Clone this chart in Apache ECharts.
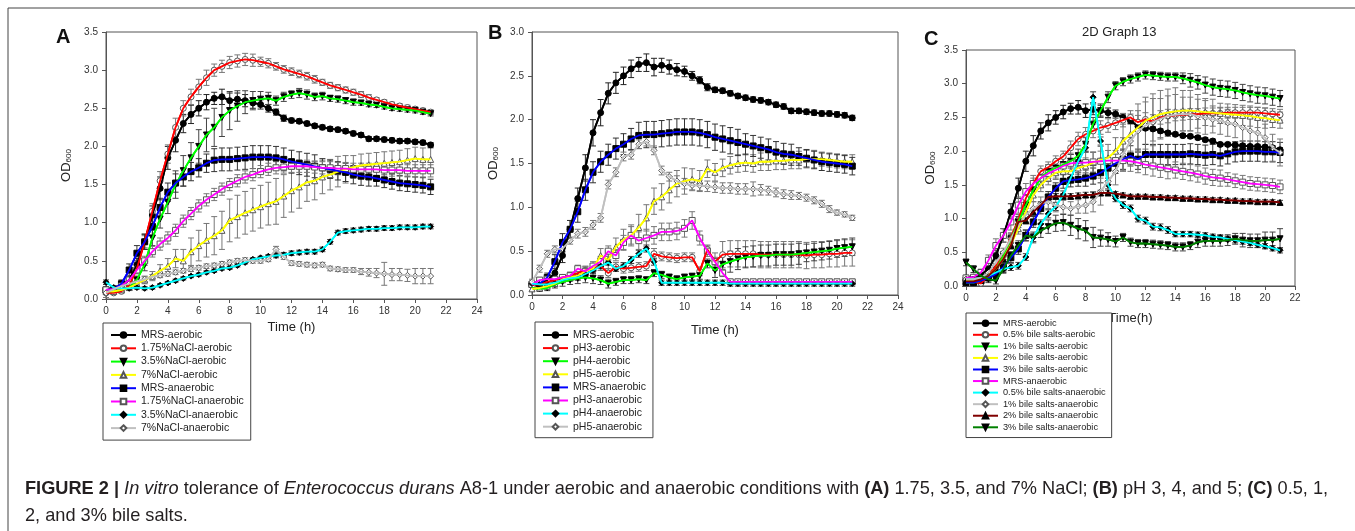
<!DOCTYPE html>
<html>
<head>
<meta charset="utf-8">
<script src="https://cdn.jsdelivr.net/npm/echarts@6/dist/echarts.min.js"></script>
<style>
  html, body { margin: 0; padding: 0; background: #fff; }
  #chart { width: 1355px; height: 531px; }
</style>
</head>
<body>
<div id="chart"></div>
<script>
// sampling times (h), same for every curve
const hours = [0,0.5,1,1.5,2,2.5,3,3.5,4,4.5,5,5.5,6,6.5,7,7.5,8,8.5,9,9.5,10,10.5,11,11.5,12,12.5,13,13.5,14,14.5,15,15.5,16,16.5,17,17.5,18,18.5,19,19.5,20,20.5,21];

// MRS controls (shared by the three panels)
const mrsAerobic = [0.12,0.13,0.17,0.25,0.45,0.75,1.1,1.45,1.85,2.08, 2.3,2.42,2.5,2.58,2.63,2.65,2.6,2.62,2.6,2.57, 2.55,2.5,2.45,2.37,2.34,2.33,2.3,2.27,2.25,2.23, 2.22,2.2,2.17,2.15,2.1,2.1,2.09,2.08,2.07,2.07, 2.06,2.05,2.02];
const mrsAerobicErr = [0.02,0.02,0.03,0.05,0.08,0.1,0.12,0.15,0.15,0.15, 0.12,0.12,0.1,0.1,0.08,0.1,0.1,0.08,0.08,0.07, 0.06,0.05,0.04,0.04,0.03,0.03,0.03,0.03,0.03,0.03, 0.03,0.03,0.03,0.03,0.03,0.03,0.03,0.03,0.03,0.03, 0.03,0.03,0.03];
const mrsAnaerobic = [0.12,0.13,0.2,0.38,0.6,0.75,0.95,1.2,1.4,1.52, 1.6,1.67,1.72,1.78,1.82,1.83,1.83,1.84,1.85,1.86, 1.86,1.86,1.85,1.83,1.8,1.78,1.76,1.74,1.72,1.7, 1.68,1.66,1.63,1.61,1.6,1.58,1.56,1.54,1.52,1.51, 1.5,1.49,1.47];
const mrsAnaerobicErr = [0.03,0.03,0.05,0.08,0.1,0.1,0.12,0.12,0.12,0.12, 0.12,0.12,0.12,0.12,0.15,0.15,0.15,0.15,0.15,0.15, 0.15,0.15,0.15,0.15,0.15,0.15,0.15,0.15,0.12,0.12, 0.12,0.12,0.12,0.12,0.12,0.1,0.1,0.1,0.1,0.1, 0.1,0.1,0.1];

// panel A - NaCl
const nacl175Aer = [0.08,0.08,0.1,0.18,0.4,0.75,1.15,1.55,1.9,2.25, 2.5,2.65,2.78,2.9,3.0,3.05,3.1,3.12,3.14,3.13, 3.11,3.09,3.05,3.01,2.98,2.95,2.92,2.88,2.84,2.8, 2.77,2.74,2.71,2.68,2.64,2.61,2.58,2.55,2.53,2.51, 2.49,2.47,2.45];
const nacl175AerErr = [0.02,0.02,0.02,0.03,0.05,0.08,0.1,0.12,0.12,0.12, 0.1,0.1,0.1,0.1,0.08,0.08,0.08,0.08,0.08,0.08, 0.06,0.06,0.05,0.05,0.05,0.05,0.05,0.05,0.04,0.04, 0.04,0.04,0.04,0.04,0.04,0.03,0.03,0.03,0.03,0.03, 0.03,0.03,0.03];
const nacl35Aer = [0.1,0.1,0.12,0.15,0.25,0.45,0.8,1.05,1.27,1.5, 1.68,1.85,2.0,2.15,2.25,2.38,2.47,2.53,2.58,2.6, 2.62,2.63,2.6,2.65,2.68,2.7,2.68,2.65,2.66,2.63, 2.62,2.6,2.58,2.57,2.55,2.54,2.52,2.5,2.49,2.48, 2.47,2.45,2.43];
const nacl35AerErr = [0.02,0.02,0.02,0.03,0.05,0.08,0.1,0.12,0.15,0.18, 0.2,0.2,0.22,0.22,0.25,0.25,0.25,0.2,0.15,0.12, 0.1,0.08,0.06,0.06,0.05,0.06,0.06,0.05,0.05,0.04, 0.04,0.04,0.04,0.03,0.03,0.03,0.03,0.03,0.03,0.03, 0.03,0.03,0.03];
const nacl7Aer = [0.1,0.1,0.12,0.15,0.2,0.25,0.3,0.37,0.43,0.53, 0.5,0.62,0.7,0.77,0.83,0.9,1.03,1.08,1.13,1.17, 1.21,1.25,1.28,1.35,1.42,1.47,1.53,1.55,1.6,1.63, 1.67,1.7,1.73,1.75,1.76,1.77,1.78,1.79,1.8,1.82, 1.84,1.83,1.83];
const nacl7AerErr = [0.02,0.02,0.02,0.03,0.04,0.05,0.06,0.08,0.1,0.12, 0.15,0.18,0.2,0.22,0.25,0.25,0.28,0.28,0.28,0.28, 0.28,0.28,0.3,0.28,0.28,0.28,0.25,0.25,0.22,0.2, 0.2,0.18,0.15,0.15,0.15,0.15,0.15,0.15,0.15,0.15, 0.15,0.15,0.15];
const nacl175An = [0.12,0.13,0.17,0.25,0.38,0.5,0.62,0.72,0.8,0.9, 1.02,1.12,1.22,1.3,1.37,1.44,1.5,1.55,1.6,1.63, 1.67,1.7,1.72,1.73,1.74,1.74,1.74,1.73,1.72,1.72, 1.71,1.71,1.7,1.7,1.7,1.7,1.69,1.69,1.69,1.68, 1.68,1.68,1.68];
const nacl175AnErr = [0.02,0.02,0.03,0.04,0.05,0.06,0.07,0.08,0.08,0.08, 0.08,0.08,0.08,0.08,0.08,0.08,0.08,0.08,0.08,0.08, 0.08,0.08,0.08,0.08,0.08,0.08,0.08,0.08,0.08,0.08, 0.08,0.08,0.08,0.08,0.08,0.08,0.08,0.08,0.08,0.08, 0.08,0.08,0.08];
const nacl35An = [0.22,0.15,0.14,0.14,0.15,0.14,0.15,0.18,0.21,0.24, 0.27,0.3,0.32,0.35,0.37,0.4,0.41,0.44,0.48,0.52, 0.54,0.56,0.57,0.58,0.6,0.61,0.62,0.62,0.65,0.75, 0.87,0.89,0.9,0.91,0.92,0.92,0.93,0.93,0.94,0.94, 0.94,0.95,0.95];
const nacl35AnErr = [0.03,0.02,0.02,0.02,0.02,0.02,0.02,0.02,0.02,0.02, 0.02,0.02,0.02,0.02,0.02,0.02,0.02,0.02,0.02,0.02, 0.02,0.02,0.03,0.03,0.03,0.03,0.03,0.03,0.03,0.03, 0.03,0.03,0.03,0.03,0.03,0.03,0.03,0.03,0.03,0.03, 0.03,0.03,0.03];
const nacl7An = [0.08,0.13,0.17,0.2,0.23,0.26,0.29,0.31,0.33,0.35, 0.37,0.39,0.41,0.43,0.44,0.46,0.48,0.5,0.51,0.5, 0.5,0.52,0.65,0.55,0.47,0.46,0.45,0.44,0.45,0.4, 0.39,0.38,0.38,0.36,0.35,0.34,0.33,0.32,0.32,0.31, 0.3,0.3,0.3];
const nacl7AnErr = [0.06,0.04,0.03,0.03,0.03,0.03,0.03,0.03,0.03,0.03, 0.03,0.03,0.03,0.03,0.03,0.03,0.03,0.03,0.03,0.03, 0.03,0.03,0.04,0.03,0.03,0.03,0.03,0.03,0.03,0.03, 0.03,0.03,0.03,0.04,0.05,0.06,0.15,0.08,0.08,0.08, 0.1,0.1,0.1];

// panel B - pH
const ph3Aer = [0.12,0.12,0.15,0.17,0.2,0.22,0.25,0.28,0.3,0.33, 0.25,0.32,0.3,0.31,0.32,0.33,0.47,0.44,0.43,0.42, 0.43,0.43,0.27,0.52,0.38,0.46,0.47,0.47,0.47,0.47, 0.46,0.46,0.46,0.46,0.46,0.46,0.45,0.46,0.46,0.47, 0.47,0.48,0.48];
const ph3AerErr = [0.03,0.03,0.03,0.03,0.03,0.04,0.05,0.05,0.05,0.05, 0.05,0.05,0.05,0.05,0.05,0.05,0.06,0.05,0.05,0.05, 0.05,0.05,0.05,0.05,0.1,0.15,0.15,0.15,0.15,0.15, 0.15,0.15,0.15,0.15,0.15,0.15,0.15,0.15,0.15,0.15, 0.15,0.15,0.15];
const ph4Aer = [0.08,0.07,0.08,0.12,0.15,0.17,0.19,0.2,0.19,0.17, 0.13,0.15,0.17,0.17,0.18,0.17,0.25,0.23,0.2,0.18, 0.2,0.21,0.22,0.36,0.28,0.35,0.38,0.41,0.43,0.44, 0.45,0.45,0.46,0.46,0.46,0.47,0.48,0.49,0.5,0.51, 0.53,0.54,0.55];
const ph4AerErr = [0.03,0.03,0.03,0.04,0.05,0.05,0.06,0.06,0.06,0.05, 0.05,0.04,0.04,0.04,0.04,0.04,0.04,0.04,0.04,0.04, 0.04,0.04,0.04,0.05,0.08,0.1,0.12,0.12,0.12,0.12, 0.12,0.12,0.12,0.12,0.12,0.12,0.1,0.1,0.1,0.1, 0.1,0.1,0.1];
const ph5Aer = [0.07,0.08,0.1,0.13,0.18,0.2,0.22,0.27,0.3,0.45, 0.4,0.55,0.63,0.68,0.77,0.88,1.07,1.12,1.2,1.27, 1.3,1.32,1.3,1.44,1.4,1.45,1.48,1.5,1.51,1.5, 1.52,1.52,1.53,1.53,1.54,1.54,1.55,1.55,1.55,1.54, 1.53,1.52,1.52];
const ph5AerErr = [0.03,0.03,0.03,0.03,0.04,0.04,0.05,0.05,0.06,0.08, 0.1,0.1,0.12,0.12,0.15,0.15,0.15,0.15,0.15,0.15, 0.15,0.12,0.12,0.1,0.1,0.1,0.1,0.1,0.1,0.1, 0.1,0.1,0.1,0.1,0.1,0.1,0.1,0.1,0.08,0.08, 0.08,0.08,0.08];
const ph3An = [0.12,0.17,0.18,0.18,0.2,0.22,0.3,0.27,0.33,0.38, 0.5,0.45,0.6,0.68,0.62,0.65,0.68,0.72,0.72,0.73, 0.76,0.85,0.65,0.5,0.38,0.25,0.15,0.15,0.15,0.15, 0.15,0.15,0.15,0.15,0.15,0.15,0.15,0.15,0.15,0.15, 0.15,0.15,0.15];
const ph3AnErr = [0.03,0.03,0.03,0.03,0.03,0.04,0.04,0.05,0.05,0.06, 0.06,0.06,0.08,0.1,0.1,0.1,0.1,0.1,0.1,0.1, 0.1,0.1,0.08,0.06,0.05,0.04,0.03,0.03,0.03,0.03, 0.03,0.03,0.03,0.03,0.03,0.03,0.03,0.03,0.03,0.03, 0.03,0.03,0.03];
const ph4An = [0.13,0.12,0.12,0.14,0.17,0.19,0.2,0.24,0.28,0.33, 0.37,0.3,0.33,0.4,0.47,0.53,0.38,0.14,0.14,0.14, 0.14,0.14,0.14,0.14,0.14,0.14,0.13,0.13,0.13,0.13, 0.13,0.13,0.13,0.13,0.13,0.13,0.13,0.13,0.13,0.13, 0.13,0.13,0.13];
const ph4AnErr = [0.03,0.03,0.03,0.03,0.03,0.03,0.03,0.03,0.03,0.03, 0.03,0.03,0.04,0.04,0.04,0.04,0.04,0.03,0.03,0.03, 0.03,0.03,0.03,0.03,0.03,0.03,0.03,0.03,0.03,0.03, 0.03,0.03,0.03,0.03,0.03,0.03,0.03,0.03,0.03,0.03, 0.03,0.03,0.03];
const ph5An = [0.15,0.3,0.47,0.52,0.53,0.62,0.7,0.72,0.8,0.88, 1.26,1.4,1.58,1.6,1.72,1.75,1.65,1.42,1.35,1.3, 1.27,1.25,1.25,1.24,1.23,1.22,1.22,1.21,1.21,1.21, 1.2,1.19,1.17,1.15,1.14,1.13,1.11,1.08,1.04,0.98, 0.94,0.92,0.88];
const ph5AnErr = [0.03,0.04,0.04,0.04,0.04,0.04,0.05,0.05,0.05,0.05, 0.05,0.05,0.05,0.05,0.05,0.05,0.05,0.05,0.05,0.06, 0.06,0.06,0.06,0.06,0.06,0.06,0.06,0.06,0.06,0.08, 0.06,0.05,0.05,0.05,0.05,0.04,0.04,0.04,0.04,0.04, 0.03,0.03,0.03];

// panel C - bile salts
const bile05Aer = [0.08,0.06,0.04,0.15,0.3,0.45,0.72,0.98,1.3,1.52, 1.7,1.76,1.85,1.92,2.05,2.18,2.25,2.3,2.35,2.38, 2.42,2.46,2.5,2.43,2.47,2.44,2.5,2.52,2.53,2.54, 2.55,2.55,2.56,2.56,2.56,2.57,2.57,2.57,2.57,2.57, 2.56,2.55,2.54];
const bile05AerErr = [0.03,0.03,0.03,0.04,0.05,0.06,0.07,0.08,0.08,0.08, 0.08,0.08,0.08,0.08,0.1,0.1,0.1,0.1,0.1,0.1, 0.1,0.1,0.1,0.1,0.1,0.1,0.1,0.1,0.08,0.08, 0.08,0.08,0.08,0.08,0.08,0.08,0.08,0.08,0.08,0.08, 0.08,0.08,0.08];
const bile1Aer = [0.05,0.05,0.08,0.15,0.25,0.45,0.7,0.95,1.2,1.42, 1.6,1.7,1.75,1.8,1.85,1.93,2.1,2.4,2.6,2.8, 2.97,3.03,3.07,3.1,3.13,3.12,3.11,3.1,3.1,3.08, 3.05,3.02,2.98,2.95,2.93,2.92,2.9,2.87,2.85,2.83, 2.82,2.8,2.78];
const bile1AerErr = [0.03,0.03,0.03,0.04,0.05,0.06,0.07,0.08,0.1,0.1, 0.1,0.1,0.1,0.1,0.1,0.1,0.1,0.1,0.1,0.08, 0.06,0.06,0.06,0.06,0.06,0.06,0.06,0.06,0.06,0.08, 0.1,0.1,0.12,0.12,0.12,0.12,0.12,0.12,0.12,0.12, 0.12,0.12,0.12];
const bile2Aer = [0.08,0.08,0.1,0.15,0.25,0.4,0.62,0.85,1.1,1.35, 1.5,1.6,1.68,1.7,1.7,1.75,1.78,1.83,1.87,1.9, 2.0,2.15,2.25,2.35,2.45,2.5,2.55,2.57,2.59,2.6, 2.6,2.59,2.58,2.57,2.56,2.55,2.54,2.53,2.52,2.5, 2.49,2.47,2.46];
const bile2AerErr = [0.03,0.03,0.03,0.04,0.05,0.06,0.07,0.08,0.1,0.1, 0.1,0.1,0.1,0.1,0.1,0.1,0.12,0.15,0.2,0.2, 0.2,0.25,0.3,0.35,0.35,0.35,0.35,0.35,0.35,0.3, 0.3,0.25,0.2,0.2,0.15,0.15,0.15,0.15,0.15,0.15, 0.15,0.12,0.12];
const bile3Aer = [0.05,0.05,0.08,0.12,0.18,0.28,0.42,0.55,0.75,0.95, 1.15,1.32,1.45,1.55,1.57,1.58,1.6,1.63,1.68,1.75, 1.82,1.88,1.93,1.88,1.95,1.95,1.95,1.95,1.95,1.95, 1.96,1.95,1.94,1.95,1.93,1.96,1.99,2.0,2.0,2.0, 1.99,1.99,1.98];
const bile3AerErr = [0.03,0.03,0.03,0.04,0.05,0.06,0.07,0.08,0.08,0.08, 0.08,0.08,0.08,0.1,0.1,0.1,0.12,0.12,0.15,0.15, 0.15,0.15,0.15,0.15,0.15,0.15,0.15,0.15,0.15,0.15, 0.15,0.15,0.15,0.15,0.15,0.15,0.15,0.15,0.15,0.15, 0.15,0.15,0.15];
const bile05An = [0.1,0.1,0.12,0.15,0.2,0.25,0.28,0.3,0.43,0.72, 0.92,1.07,1.18,1.35,1.6,1.85,2.05,2.8,2.15,1.5, 1.3,1.2,1.15,1.0,0.97,0.88,0.87,0.83,0.77,0.77, 0.77,0.76,0.75,0.73,0.72,0.7,0.68,0.66,0.64,0.61, 0.59,0.56,0.53];
const bile05AnErr = [0.03,0.03,0.03,0.04,0.05,0.05,0.05,0.05,0.05,0.06, 0.06,0.06,0.06,0.06,0.06,0.06,0.06,0.08,0.06,0.06, 0.05,0.05,0.05,0.05,0.05,0.05,0.05,0.05,0.04,0.04, 0.04,0.04,0.04,0.04,0.04,0.04,0.04,0.04,0.04,0.04, 0.04,0.04,0.04];
const bile1An = [0.1,0.1,0.12,0.2,0.35,0.5,0.7,0.9,1.05,1.15, 1.22,1.25,1.2,1.17,1.15,1.18,1.2,1.25,1.4,1.55, 1.7,1.95,2.15,2.3,2.38,2.43,2.48,2.52,2.54,2.55, 2.55,2.52,2.5,2.47,2.45,2.42,2.4,2.35,2.3,2.27, 2.2,2.05,1.98];
const bile1AnErr = [0.03,0.03,0.03,0.04,0.05,0.06,0.07,0.08,0.1,0.1, 0.1,0.1,0.1,0.1,0.1,0.1,0.12,0.15,0.2,0.2, 0.2,0.25,0.3,0.3,0.35,0.35,0.3,0.3,0.3,0.25, 0.25,0.25,0.25,0.2,0.2,0.2,0.2,0.2,0.2,0.2, 0.2,0.2,0.2];
const bile2An = [0.07,0.07,0.1,0.15,0.25,0.4,0.6,0.95,0.97,1.1, 1.2,1.32,1.33,1.33,1.33,1.34,1.35,1.35,1.38,1.38, 1.37,1.35,1.33,1.33,1.33,1.32,1.32,1.31,1.31,1.3, 1.3,1.29,1.29,1.28,1.28,1.27,1.27,1.26,1.26,1.25, 1.25,1.25,1.24];
const bile2AnErr = [0.02,0.02,0.03,0.03,0.04,0.05,0.05,0.05,0.05,0.05, 0.05,0.04,0.04,0.04,0.04,0.04,0.04,0.04,0.04,0.04, 0.03,0.03,0.03,0.03,0.03,0.03,0.03,0.03,0.03,0.03, 0.03,0.03,0.03,0.03,0.03,0.03,0.03,0.03,0.03,0.03, 0.03,0.03,0.03];
const bile3An = [0.35,0.25,0.15,0.1,0.08,0.25,0.45,0.6,0.75,0.72, 0.82,0.88,0.93,0.94,0.9,0.85,0.82,0.72,0.71,0.69, 0.66,0.72,0.65,0.63,0.63,0.62,0.61,0.6,0.58,0.58, 0.6,0.65,0.67,0.67,0.67,0.68,0.7,0.68,0.67,0.67, 0.68,0.68,0.7];
const bile3AnErr = [0.05,0.05,0.05,0.05,0.05,0.06,0.06,0.07,0.08,0.08, 0.1,0.1,0.12,0.12,0.15,0.15,0.15,0.15,0.12,0.1, 0.08,0.06,0.06,0.06,0.06,0.06,0.06,0.06,0.06,0.06, 0.06,0.08,0.08,0.08,0.08,0.08,0.08,0.1,0.1,0.1, 0.12,0.12,0.15];

const FONT = 'Liberation Sans, Arial, sans-serif';

// marker looks (SigmaPlot style)
const looks = {
  blackCircle:  { line: '#000000', symbol: 'circle',   fill: '#000', edge: '#000', err: '#222' },
  redCircle:    { line: '#ff0000', symbol: 'circle',   fill: '#fff', edge: '#555', err: '#777' },
  greenTri:     { line: '#00ff00', symbol: 'triangle', fill: '#000', edge: '#000', err: '#444', rotate: 180 },
  yellowTri:    { line: '#ffff00', symbol: 'triangle', fill: '#fff', edge: '#555', err: '#777' },
  blueSquare:   { line: '#0000ff', symbol: 'rect',     fill: '#000', edge: '#000', err: '#333' },
  pinkSquare:   { line: '#ff00ff', symbol: 'rect',     fill: '#fff', edge: '#555', err: '#777' },
  cyanDiamond:  { line: '#00ffff', symbol: 'diamond',  fill: '#000', edge: '#000', err: '#444' },
  greyDiamond:  { line: '#c0c0c0', symbol: 'diamond',  fill: '#fff', edge: '#555', err: '#777' },
  maroonTri:    { line: '#800000', symbol: 'triangle', fill: '#000', edge: '#000', err: '#444' },
  dkGreenTri:   { line: '#008000', symbol: 'triangle', fill: '#000', edge: '#000', err: '#444', rotate: 180 }
};

const series = [];
const legendNames = { A: [], B: [], C: [] };

function addCurve(panel, idx, label, vals, errs, look) {
  const name = panel + '|' + label;
  const pts = hours.map((h, i) => [h, vals[i]]);
  legendNames[panel].push(name);
  // error bars under everything
  series.push({
    type: 'custom',
    xAxisIndex: idx, yAxisIndex: idx,
    data: hours.map((h, i) => [h, vals[i], errs[i]]),
    z: 1, silent: true,
    renderItem: function (params, api) {
      const x = api.value(0), y = api.value(1), e = api.value(2);
      const hi = api.coord([x, y + e]);
      const lo = api.coord([x, y - e]);
      const st = { stroke: look.err, lineWidth: 1 };
      return {
        type: 'group',
        children: [
          { type: 'line', shape: { x1: hi[0], y1: hi[1], x2: lo[0], y2: lo[1] }, style: st },
          { type: 'line', shape: { x1: hi[0] - 3, y1: hi[1], x2: hi[0] + 3, y2: hi[1] }, style: st },
          { type: 'line', shape: { x1: lo[0] - 3, y1: lo[1], x2: lo[0] + 3, y2: lo[1] }, style: st }
        ]
      };
    }
  });
  // line with markers (used by the legend)
  series.push({
    type: 'line', name: name,
    xAxisIndex: idx, yAxisIndex: idx,
    data: pts,
    symbol: look.symbol, symbolSize: 6, symbolRotate: look.rotate || 0,
    itemStyle: { color: look.fill, borderColor: look.edge, borderWidth: 1 },
    lineStyle: { color: look.line, width: 1.8 },
    z: 3
  });
  // same line again on top of the markers
  series.push({
    type: 'line',
    xAxisIndex: idx, yAxisIndex: idx,
    data: pts, symbol: 'none', silent: true,
    lineStyle: { color: look.line, width: 1.8 },
    z: 4
  });
}

addCurve('A', 0, 'MRS-aerobic', mrsAerobic, mrsAerobicErr, looks.blackCircle);
addCurve('A', 0, '1.75%NaCl-aerobic', nacl175Aer, nacl175AerErr, looks.redCircle);
addCurve('A', 0, '3.5%NaCl-aerobic', nacl35Aer, nacl35AerErr, looks.greenTri);
addCurve('A', 0, '7%NaCl-aerobic', nacl7Aer, nacl7AerErr, looks.yellowTri);
addCurve('A', 0, 'MRS-anaerobic', mrsAnaerobic, mrsAnaerobicErr, looks.blueSquare);
addCurve('A', 0, '1.75%NaCl-anaerobic', nacl175An, nacl175AnErr, looks.pinkSquare);
addCurve('A', 0, '3.5%NaCl-anaerobic', nacl35An, nacl35AnErr, looks.cyanDiamond);
addCurve('A', 0, '7%NaCl-anaerobic', nacl7An, nacl7AnErr, looks.greyDiamond);

addCurve('B', 1, 'MRS-aerobic', mrsAerobic, mrsAerobicErr, looks.blackCircle);
addCurve('B', 1, 'pH3-aerobic', ph3Aer, ph3AerErr, looks.redCircle);
addCurve('B', 1, 'pH4-aerobic', ph4Aer, ph4AerErr, looks.greenTri);
addCurve('B', 1, 'pH5-aerobic', ph5Aer, ph5AerErr, looks.yellowTri);
addCurve('B', 1, 'MRS-anaerobic', mrsAnaerobic, mrsAnaerobicErr, looks.blueSquare);
addCurve('B', 1, 'pH3-anaerobic', ph3An, ph3AnErr, looks.pinkSquare);
addCurve('B', 1, 'pH4-anaerobic', ph4An, ph4AnErr, looks.cyanDiamond);
addCurve('B', 1, 'pH5-anaerobic', ph5An, ph5AnErr, looks.greyDiamond);

addCurve('C', 2, 'MRS-aerobic', mrsAerobic, mrsAerobicErr, looks.blackCircle);
addCurve('C', 2, '0.5% bile salts-aerobic', bile05Aer, bile05AerErr, looks.redCircle);
addCurve('C', 2, '1% bile salts-aerobic', bile1Aer, bile1AerErr, looks.greenTri);
addCurve('C', 2, '2% bile salts-aerobic', bile2Aer, bile2AerErr, looks.yellowTri);
addCurve('C', 2, '3% bile salts-aerobic', bile3Aer, bile3AerErr, looks.blueSquare);
addCurve('C', 2, 'MRS-anaerobic', mrsAnaerobic, mrsAnaerobicErr, looks.pinkSquare);
addCurve('C', 2, '0.5% bile salts-anaerobic', bile05An, bile05AnErr, looks.cyanDiamond);
addCurve('C', 2, '1% bile salts-anaerobic', bile1An, bile1AnErr, looks.greyDiamond);
addCurve('C', 2, '2% bile salts-anaerobic', bile2An, bile2AnErr, looks.maroonTri);
addCurve('C', 2, '3% bile salts-anaerobic', bile3An, bile3AnErr, looks.dkGreenTri);

function xAxisFor(idx, max, title, gap) {
  return {
    type: 'value', gridIndex: idx, min: 0, max: max, interval: 2,
    axisLine: { show: true, lineStyle: { color: '#555', width: 1 } },
    axisTick: { show: true, length: 4, lineStyle: { color: '#555' } },
    axisLabel: { fontSize: 10, color: '#333', margin: 7, fontFamily: FONT },
    splitLine: { show: false },
    name: title, nameLocation: 'middle', nameGap: gap,
    nameTextStyle: { fontSize: 13, color: '#222', fontFamily: FONT }
  };
}
function yAxisFor(idx, max, gap) {
  return {
    type: 'value', gridIndex: idx, min: 0, max: max, interval: 0.5,
    axisLine: { show: true, lineStyle: { color: '#555', width: 1 } },
    axisTick: { show: true, length: 4, lineStyle: { color: '#555' } },
    axisLabel: { fontSize: 10, color: '#333', margin: 8, fontFamily: FONT,
      formatter: v => v.toFixed(1) },
    splitLine: { show: false },
    name: '{a|OD}{b|600}', nameLocation: 'middle', nameGap: gap, nameRotate: 90,
    nameTextStyle: { color: '#222', fontFamily: FONT,
      rich: {
        a: { fontSize: 13, color: '#222', fontFamily: FONT, lineHeight: 16, verticalAlign: 'bottom' },
        b: { fontSize: 8, color: '#222', fontFamily: FONT, lineHeight: 16, verticalAlign: 'bottom', padding: [6, 0, 0, 0] }
      } }
  };
}
function legendFor(panel, left, top, pad, gap, fs, lh) {
  return {
    orient: 'vertical', left: left, top: top,
    data: legendNames[panel], selectedMode: false,
    formatter: n => n.split('|')[1],
    itemWidth: 25, itemHeight: 7, itemGap: gap,
    padding: pad, borderColor: '#444', borderWidth: 1, borderRadius: 0,
    backgroundColor: '#fff',
    textStyle: { fontSize: fs, lineHeight: lh, color: '#222', fontFamily: FONT }
  };
}

const chart = echarts.init(document.getElementById('chart'));
chart.setOption({
  animation: false,
  textStyle: { fontFamily: FONT },
  grid: [
    { left: 106, top: 32, width: 371, height: 267, show: true, borderColor: '#555', borderWidth: 1, backgroundColor: 'transparent' },
    { left: 532, top: 32, width: 366, height: 263, show: true, borderColor: '#555', borderWidth: 1, backgroundColor: 'transparent' },
    { left: 966, top: 50, width: 329, height: 236, show: true, borderColor: '#555', borderWidth: 1, backgroundColor: 'transparent' }
  ],
  xAxis: [xAxisFor(0, 24, 'Time (h)', 20), xAxisFor(1, 24, 'Time (h)', 29), xAxisFor(2, 22, 'Time(h)', 26)],
  yAxis: [yAxisFor(0, 3.5, 33), yAxisFor(1, 3.0, 32), yAxisFor(2, 3.5, 29)],
  legend: [
    legendFor('A', 103, 323, [6, 7, 6, 7], 1.3, 10.5, 12),
    legendFor('B', 535, 322, [7, 7, 5, 7], 1.1, 10.5, 12),
    legendFor('C', 966, 313, [5, 6, 5, 6], 1.06, 9.2, 10.5)
  ],
  graphic: [
    { type: 'rect', silent: true, shape: { x: 8, y: 8, width: 1500, height: 700 },
      style: { fill: 'none', stroke: '#444', lineWidth: 1 } },
    { type: 'text', left: 56, top: 27, style: { text: 'A', font: 'bold 20px ' + FONT, fill: '#111' } },
    { type: 'text', left: 488, top: 23, style: { text: 'B', font: 'bold 20px ' + FONT, fill: '#111' } },
    { type: 'text', left: 924, top: 29, style: { text: 'C', font: 'bold 20px ' + FONT, fill: '#111' } },
    { type: 'text', left: 1082, top: 26, style: { text: '2D Graph 13', font: '13px ' + FONT, fill: '#222' } },
    { type: 'text', left: 25, top: 480, style: {
        text: '{b|FIGURE 2 | }{i|In vitro}{n| tolerance of }{i|Enterococcus durans}{n| A8-1 under aerobic and anaerobic conditions with }{b|(A)}{n| 1.75, 3.5, and 7% NaCl; }{b|(B)}{n| pH 3, 4, and 5; }{b|(C)}{n| 0.5, 1,}',
        rich: {
          b: { font: 'bold 18.2px ' + FONT, fill: '#231f20' },
          i: { font: 'italic 18.2px ' + FONT, fill: '#231f20' },
          n: { font: '18.2px ' + FONT, fill: '#231f20' }
        } } },
    { type: 'text', left: 25, top: 507, style: { text: '2, and 3% bile salts.', font: '18.2px ' + FONT, fill: '#231f20' } }
  ],
  series: series
});
</script>
</body>
</html>
